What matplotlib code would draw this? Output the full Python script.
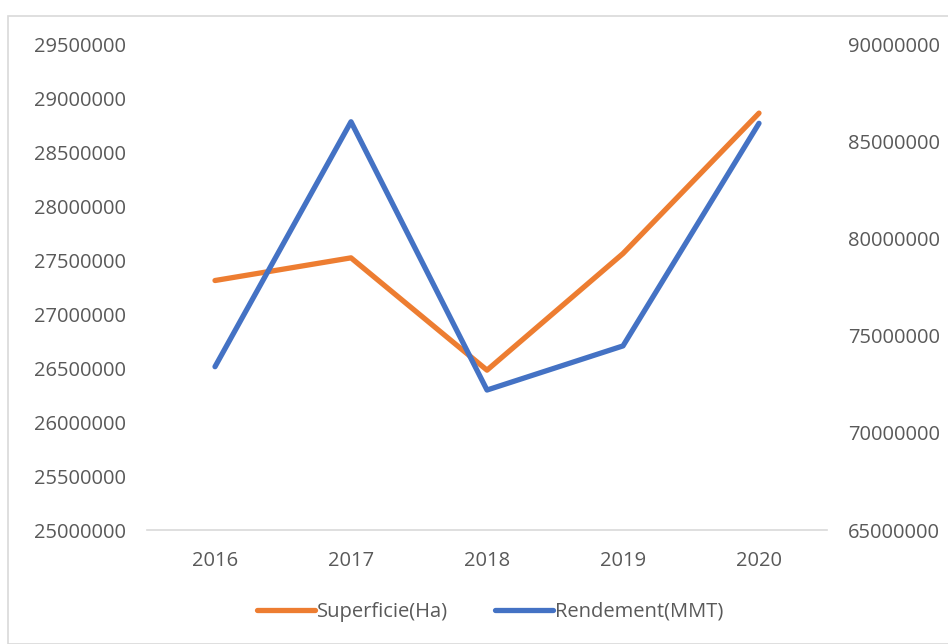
import matplotlib.pyplot as plt
from matplotlib.patches import Rectangle

# données
years = ['2016', '2017', '2018', '2019', '2020']
superficie = [27310000, 27520000, 26480000, 27560000, 28860000]
rendement = [73400000, 86000000, 72200000, 74470000, 85920000]

orange = '#ED7D31'
blue = '#4472C4'
gray = '#595959'

plt.rcParams['font.family'] = ['Open Sans', 'DejaVu Sans']

fig = plt.figure(figsize=(9.48, 6.44), dpi=100)
fig.patches.append(Rectangle((8 / 948, 0), 1.0, 1 - 16 / 644, transform=fig.transFigure,
                             fill=False, edgecolor='#D9D9D9', linewidth=1.2))

ax = fig.add_axes([147 / 948, 1 - 530 / 644, 680 / 948, 486 / 644])
ax2 = ax.twinx()

x = list(range(len(years)))
l1, = ax.plot(x, superficie, color=orange, linewidth=3.8, solid_capstyle='round',
              solid_joinstyle='round', label='Superficie(Ha)')
l2, = ax2.plot(x, rendement, color=blue, linewidth=3.8, solid_capstyle='round',
               solid_joinstyle='round', label='Rendement(MMT)')

ax.set_xlim(-0.5, 4.5)
ax.set_ylim(25000000, 29500000)
ax2.set_ylim(65000000, 90000000)
ax.set_yticks(range(25000000, 29500001, 500000))
ax2.set_yticks(range(65000000, 90000001, 5000000))
ax.set_xticks(x)
ax.set_xticklabels(years)

for a in (ax, ax2):
    for s in a.spines.values():
        s.set_visible(False)
    a.tick_params(length=0, labelsize=14.5, colors=gray)
    a.ticklabel_format(axis='y', style='plain', useOffset=False)
ax.spines['bottom'].set_visible(True)
ax.spines['bottom'].set_color('#D9D9D9')
ax.spines['bottom'].set_linewidth(1.2)
ax.tick_params(axis='y', pad=15)
ax2.tick_params(axis='y', pad=15)
ax.tick_params(axis='x', pad=15)

fig.legend(handles=[l1, l2], loc='center', bbox_to_anchor=(490 / 948, 1 - 612 / 644),
           ncol=2, frameon=False, fontsize=14.5, labelcolor=gray,
           handlelength=2.9, handletextpad=0.1, columnspacing=2.3)

fig.savefig('out.png', dpi=100)
